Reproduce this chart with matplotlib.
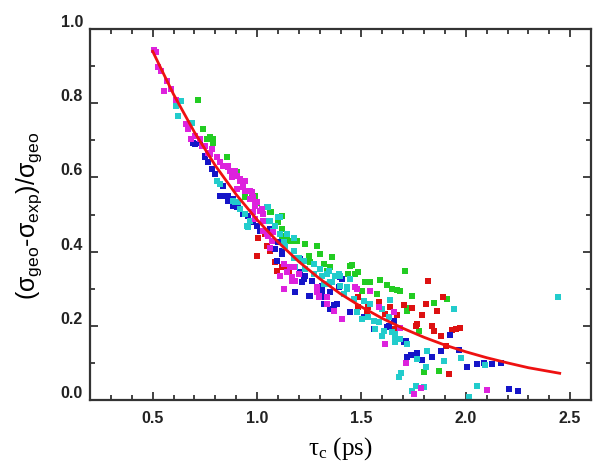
import numpy as np
import matplotlib
matplotlib.use('Agg')
import matplotlib.pyplot as plt
import matplotlib.transforms as mtransforms
from matplotlib.ticker import MultipleLocator

plt.rcParams['mathtext.fontset'] = 'custom'
plt.rcParams['mathtext.rm'] = 'Liberation Sans'
plt.rcParams['mathtext.it'] = 'Liberation Sans'
plt.rcParams['mathtext.default'] = 'regular'

## scatter data, one pair of lists per colour
mag_x = [0.506, 0.518, 0.525, 0.538, 0.554, 0.571, 0.590, 0.610, 0.662, 0.670, 0.702, 0.686, 0.734, 0.782,
         0.774, 0.806, 0.726, 0.750, 0.766, 0.822, 0.838, 0.862, 0.870, 0.902, 0.878, 0.918, 0.934, 0.902,
         0.942, 0.966, 0.990, 1.014, 1.030, 0.990, 1.046, 0.975, 0.990, 0.982, 1.030, 1.030, 1.078, 1.070,
         1.062, 1.127, 1.159, 1.143, 1.110, 1.167, 1.183, 1.127, 1.287, 1.295, 1.471, 1.542, 1.335, 1.583,
         1.367, 1.407, 1.614, 1.655, 1.687, 1.716, 1.751, 1.786, 2.104, 1.478,
         0.862, 0.894, 0.918, 0.942, 0.934, 0.966, 0.982, 0.998, 1.022, 1.054, 1.175, 1.199, 1.167, 1.287,
         1.127, 1.295, 1.335]
mag_y = [0.944, 0.937, 0.897, 0.888, 0.834, 0.861, 0.838, 0.810, 0.744, 0.730, 0.712, 0.703, 0.686, 0.677,
         0.663, 0.654, 0.703, 0.686, 0.667, 0.641, 0.632, 0.632, 0.618, 0.604, 0.600, 0.591, 0.578, 0.569,
         0.564, 0.542, 0.524, 0.510, 0.501, 0.488, 0.447, 0.560, 0.533, 0.506, 0.483, 0.456, 0.452, 0.429,
         0.411, 0.367, 0.358, 0.344, 0.335, 0.331, 0.322, 0.299, 0.290, 0.281, 0.304, 0.295, 0.259, 0.250,
         0.241, 0.218, 0.151, 0.236, 0.193, 0.101, 0.016, 0.031, 0.027, 0.299,
         0.627, 0.618, 0.596, 0.591, 0.573, 0.564, 0.546, 0.533, 0.515, 0.443, 0.358, 0.340, 0.322, 0.304,
         0.299, 0.277, 0.277]

grn_x = [0.715, 0.742, 0.758, 0.790, 0.774, 0.790, 0.854, 0.902, 0.975, 0.998, 1.066, 1.102, 1.119, 1.119,
         1.143, 1.159, 1.191, 1.231, 1.287, 1.303, 1.359, 1.255, 1.319, 1.454, 1.438, 1.486, 1.502, 1.542,
         1.518, 1.591, 1.623, 1.647, 1.671, 1.683, 1.707, 1.575, 1.743, 1.719, 1.735, 1.775, 1.911, 1.848,
         1.800, 1.872, 1.351, 1.335,
         0.942, 0.990, 1.062, 1.119, 1.175, 1.247, 1.447, 1.471]
grn_y = [0.809, 0.730, 0.703, 0.703, 0.708, 0.694, 0.654, 0.614, 0.551, 0.531, 0.506, 0.479, 0.497, 0.461,
         0.443, 0.429, 0.429, 0.420, 0.416, 0.394, 0.386, 0.371, 0.367, 0.364, 0.340, 0.344, 0.295, 0.319,
         0.317, 0.323, 0.310, 0.299, 0.297, 0.295, 0.349, 0.286, 0.281, 0.241, 0.248, 0.187, 0.272, 0.261,
         0.075, 0.079, 0.358, 0.349,
         0.546, 0.551, 0.506, 0.443, 0.429, 0.389, 0.362, 0.340]

blu_x = [0.702, 0.750, 0.694, 0.726, 0.750, 0.766, 0.782, 0.798, 0.822, 0.838, 0.846, 0.870, 0.862, 0.886,
         0.902, 0.958, 0.982, 0.975, 1.062, 1.094, 1.102, 1.086, 1.119, 1.207, 1.207, 1.399, 1.223, 1.262,
         1.311, 1.183, 1.247, 1.407, 1.311, 1.391, 1.351, 1.327, 1.319, 1.367, 1.383, 1.351, 1.447, 1.511,
         1.623, 1.704, 1.716, 1.631, 1.559, 1.655, 1.739, 1.767, 1.719, 1.791, 1.839, 1.882, 1.925, 1.968,
         2.008, 2.052, 2.088, 2.128, 2.168, 2.208, 2.249,
         0.862, 0.886, 0.910, 0.934, 0.998, 1.014, 1.119, 1.231, 1.215, 1.263, 1.255, 1.311]
blu_y = [0.690, 0.659, 0.694, 0.694, 0.654, 0.641, 0.623, 0.609, 0.551, 0.578, 0.551, 0.542, 0.537, 0.524,
         0.519, 0.497, 0.479, 0.483, 0.461, 0.376, 0.425, 0.407, 0.402, 0.380, 0.344, 0.331, 0.326, 0.322,
         0.308, 0.290, 0.281, 0.326, 0.299, 0.304, 0.290, 0.277, 0.259, 0.255, 0.259, 0.245, 0.238, 0.223,
         0.196, 0.155, 0.160, 0.200, 0.191, 0.214, 0.121, 0.127, 0.115, 0.108, 0.117, 0.133, 0.175, 0.136,
         0.088, 0.096, 0.100, 0.096, 0.099, 0.030, 0.025,
         0.551, 0.542, 0.519, 0.501, 0.470, 0.456, 0.394, 0.335, 0.317, 0.322, 0.281, 0.286]

cyn_x = [0.635, 0.614, 0.622, 0.686, 0.690, 0.806, 0.822, 0.886, 0.910, 0.918, 1.054, 0.942, 1.110, 0.966,
         1.030, 0.958, 1.078, 1.046, 1.062, 1.086, 1.110, 1.135, 1.175, 1.199, 1.183, 1.231, 1.271, 1.311,
         1.375, 1.351, 1.335, 1.399, 1.359, 1.447, 1.319, 1.431, 1.415, 1.463, 1.639, 1.511, 1.542, 1.599,
         1.478, 1.534, 1.559, 1.583, 1.631, 1.502, 1.567, 1.607, 1.647, 1.663, 1.687, 1.719, 1.663, 1.599,
         1.663, 1.944, 1.767, 1.815, 1.895, 1.979, 1.808, 1.688, 1.681, 1.760, 1.743, 1.800, 2.056, 2.016,
         2.093, 2.440,
         0.894, 0.950, 1.038, 1.102, 1.086, 1.143, 1.175, 1.127, 1.175, 1.223, 1.271, 1.303, 1.343, 1.391,
         1.343, 1.399, 1.431]
cyn_y = [0.807, 0.793, 0.766, 0.748, 0.748, 0.591, 0.582, 0.537, 0.533, 0.515, 0.519, 0.501, 0.492, 0.483,
         0.483, 0.465, 0.456, 0.519, 0.483, 0.470, 0.447, 0.416, 0.402, 0.384, 0.358, 0.353, 0.340, 0.335,
         0.335, 0.317, 0.340, 0.335, 0.317, 0.326, 0.313, 0.299, 0.286, 0.272, 0.270, 0.268, 0.259, 0.245,
         0.236, 0.223, 0.214, 0.209, 0.223, 0.218, 0.191, 0.187, 0.182, 0.164, 0.164, 0.151, 0.178, 0.173,
         0.155, 0.245, 0.111, 0.133, 0.104, 0.112, 0.088, 0.074, 0.061, 0.037, 0.025, 0.034, 0.037, 0.007,
         0.093, 0.277,
         0.533, 0.470, 0.483, 0.492, 0.470, 0.447, 0.438, 0.425, 0.384, 0.376, 0.367, 0.353, 0.349, 0.340,
         0.313, 0.308, 0.304]

red_x = [0.998, 1.006, 1.038, 1.046, 1.062, 1.086, 1.119, 1.094, 1.486, 1.583, 1.534, 1.639, 1.614, 1.671,
         1.767, 1.820, 1.892, 1.808, 1.864, 1.791, 1.704, 1.743, 1.760, 1.839, 1.848, 1.880, 1.936, 1.952,
         1.973, 1.903, 1.920, 1.655, 1.486, 1.527,
         1.127, 1.151]
red_y = [0.387, 0.438, 0.447, 0.416, 0.402, 0.371, 0.358, 0.349, 0.277, 0.263, 0.250, 0.250, 0.232, 0.229,
         0.205, 0.320, 0.277, 0.259, 0.241, 0.229, 0.255, 0.247, 0.200, 0.199, 0.187, 0.172, 0.189, 0.191,
         0.193, 0.146, 0.070, 0.191, 0.250, 0.241,
         0.362, 0.349]

## fitted curve
fit_x = [0.50, 0.60, 0.70, 0.80, 0.90, 1.00, 1.10, 1.20, 1.30, 1.40, 1.50, 1.60, 1.70, 1.80, 1.90, 2.00,
         2.10, 2.20, 2.30, 2.40, 2.45]
fit_y = [0.940, 0.824, 0.722, 0.632, 0.554, 0.486, 0.426, 0.373, 0.327, 0.286, 0.251, 0.220, 0.193, 0.169,
         0.148, 0.130, 0.114, 0.100, 0.087, 0.077, 0.072]

fig = plt.figure(figsize=(6.01, 4.64), dpi=100)
ax = fig.add_axes([0.1498, 0.1358, 0.8336, 0.7995])

sets = [(grn_x, grn_y, '#22cc22'), (red_x, red_y, '#dd1111'), (blu_x, blu_y, '#1515c8'),
        (cyn_x, cyn_y, '#22cccc'), (mag_x, mag_y, '#dd22dd')]
for xs, ys, c in sets:
    ax.scatter(xs, ys, s=17, marker='s', color=c, linewidths=0, zorder=2)

ax.plot(fit_x, fit_y, color='#ee1111', lw=2, zorder=3)

ax.set_xlim(0.2, 2.6)
ax.set_ylim(0.0, 1.0)
ax.xaxis.set_major_locator(MultipleLocator(0.5))
ax.xaxis.set_minor_locator(MultipleLocator(0.1))
ax.yaxis.set_major_locator(MultipleLocator(0.2))
ax.yaxis.set_minor_locator(MultipleLocator(0.1))
ax.tick_params(which='both', direction='in', top=True, right=True, width=1.2, color='#222222')
ax.tick_params(which='major', length=6)
ax.tick_params(which='minor', length=3.5)
ax.tick_params(axis='x', pad=7)
ax.tick_params(axis='y', pad=5)
for sp in ax.spines.values():
    sp.set_linewidth(1.6)
    sp.set_color('#333333')

for lab in ax.get_xticklabels() + ax.get_yticklabels():
    lab.set_fontfamily('Liberation Sans')
    lab.set_fontweight('bold')
    lab.set_fontsize(11.5)
    lab.set_color('#222222')
# y tick labels sit a little above their ticks in the original
shift = mtransforms.ScaledTranslation(0, 0.09, fig.dpi_scale_trans)
for lab in ax.get_yticklabels():
    lab.set_transform(lab.get_transform() + shift)

ax.set_ylabel(r'$(\sigma_{geo}$-$\sigma_{exp})/\sigma_{geo}$', family='Liberation Sans',
              fontsize=18, labelpad=12)
ax.set_xlabel(r'$\tau_c$ (ps)', family='Liberation Serif', math_fontfamily='stix',
              fontsize=18, labelpad=7)

fig.savefig('out.png', dpi=100)
